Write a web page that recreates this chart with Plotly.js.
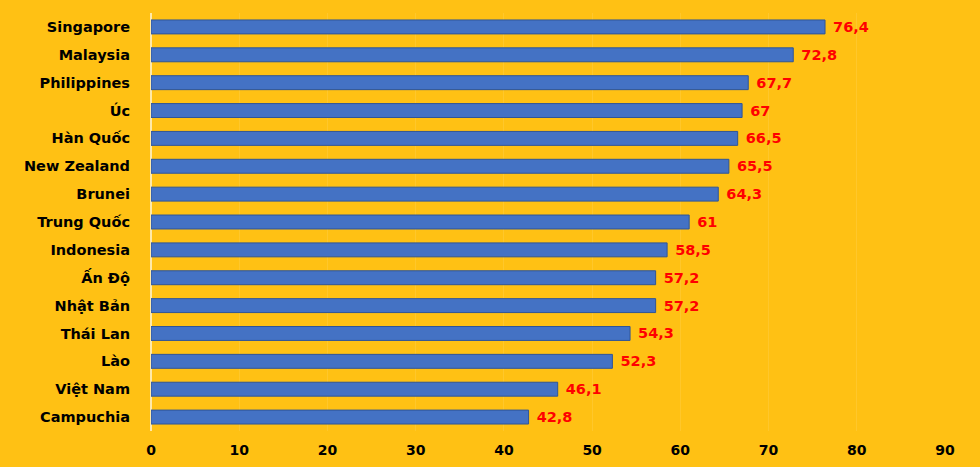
<!DOCTYPE html>
<html>
<head>
<meta charset="utf-8">
<script src="https://cdn.plot.ly/plotly-3.0.1.min.js"></script>
<style>
  html, body { margin: 0; padding: 0; background: #FFC114; }
  #chart { width: 980px; height: 467px; }
</style>
</head>
<body>
<div id="chart"></div>
<script>
var countries = ["Singapore", "Malaysia", "Philippines", "Úc", "Hàn Quốc", "New Zealand", "Brunei",
    "Trung Quốc", "Indonesia", "Ấn Độ", "Nhật Bản", "Thái Lan", "Lào", "Việt Nam", "Campuchia"];
var values = [76.4, 72.8, 67.7, 67, 66.5, 65.5, 64.3, 61, 58.5, 57.2, 57.2, 54.3, 52.3, 46.1, 42.8];
var tickVals = [0, 10, 20, 30, 40, 50, 60, 70, 80, 90];

// nhãn kiểu Việt Nam: dấu phẩy thập phân
var labels = values.map(function(v){ return String(v).replace(".", ","); });

var trace = {
    type: 'bar',
    orientation: 'h',
    x: values,
    y: countries,
    text: labels,
    texttemplate: '\u00a0%{text}',
    textposition: 'outside',
    constraintext: 'none',
    cliponaxis: false,
    textfont: {family: 'DejaVu Sans', size: 14.5, color: '#FF0000', weight: 'bold'},
    marker: {color: '#4472C4', line: {color: '#2F5597', width: 1}},
    width: 0.5,
    hoverinfo: 'x+y'
};

var layout = {
    width: 980,
    height: 467,
    paper_bgcolor: '#FFC114',
    plot_bgcolor: '#FFC114',
    margin: {l: 151, r: 35, t: 13, b: 36},
    showlegend: false,
    bargap: 0.5,
    xaxis: {
        range: [0, 90],
        tickvals: tickVals,
        showgrid: true,
        gridcolor: 'rgba(255,255,255,0.1)',
        zeroline: true,
        zerolinecolor: '#FFE9A8',
        zerolinewidth: 2,
        showline: false,
        ticks: '',
        ticklabelstandoff: 9,
        tickfont: {family: 'DejaVu Sans', size: 14, color: '#000', weight: 'bold'},
        fixedrange: true
    },
    yaxis: {
        autorange: 'reversed',
        showgrid: false,
        zeroline: false,
        ticks: '',
        ticklabelstandoff: 20,
        tickfont: {family: 'DejaVu Sans', size: 14.5, color: '#000', weight: 'bold'},
        fixedrange: true
    }
};

Plotly.newPlot('chart', [trace], layout, {displayModeBar: false, staticPlot: true});
</script>
</body>
</html>
